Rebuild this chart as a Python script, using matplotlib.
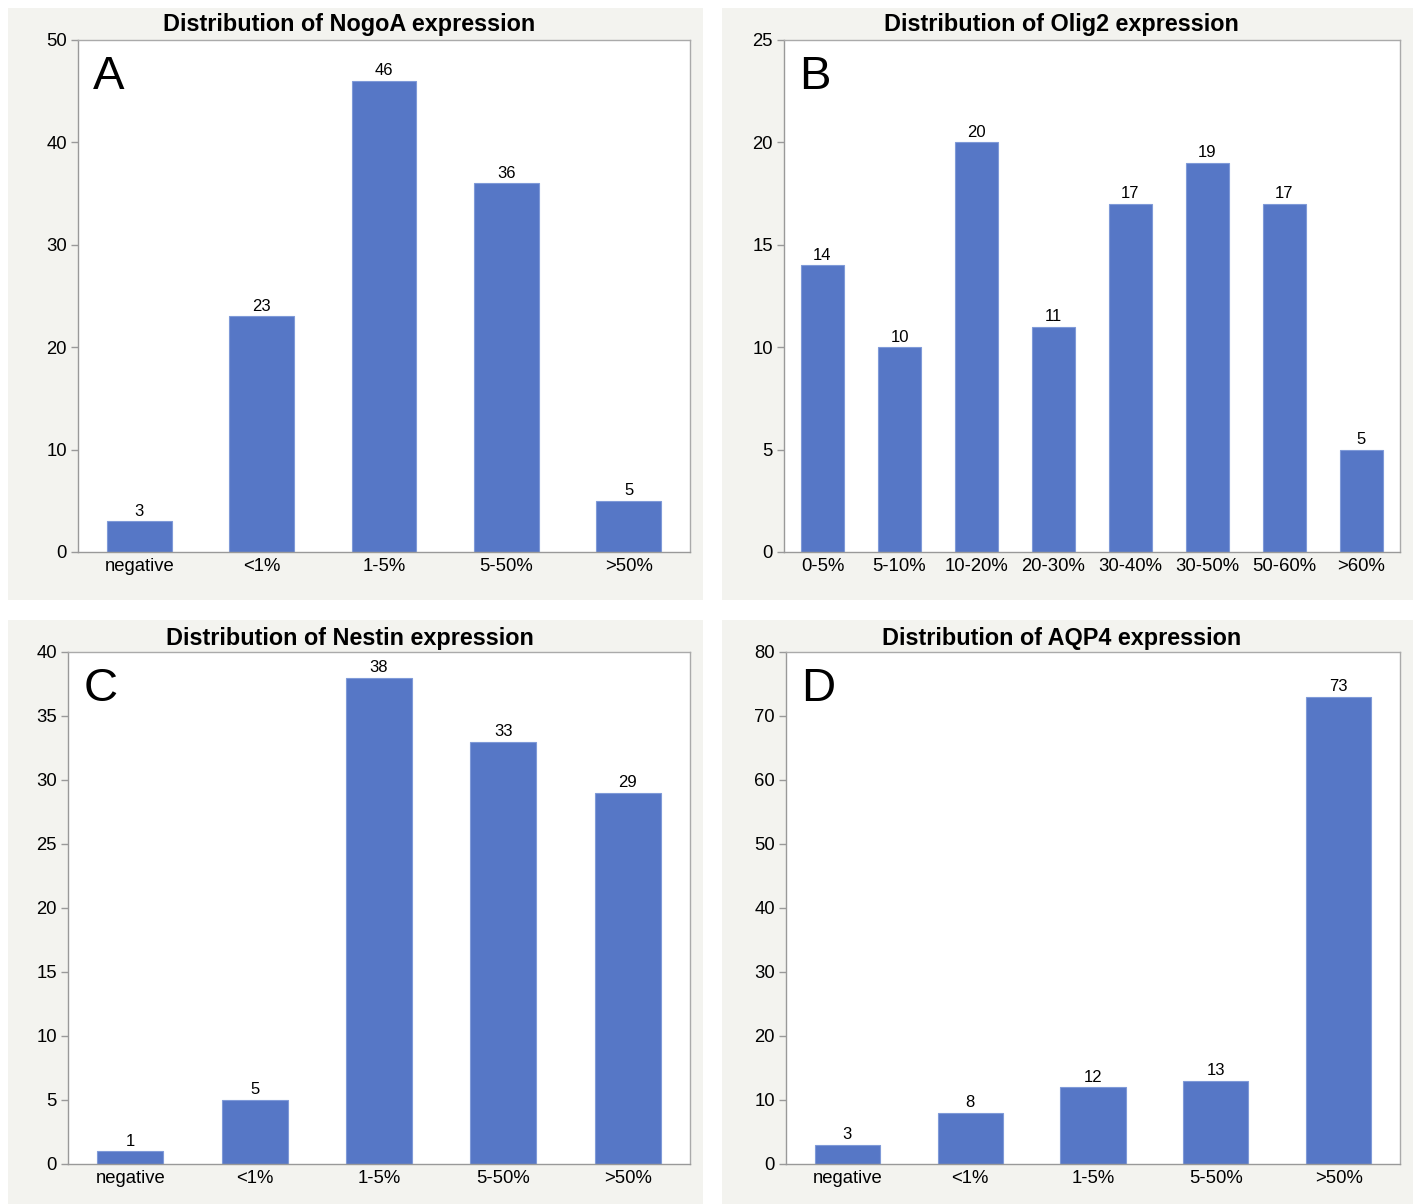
import matplotlib
matplotlib.use("Agg")
import matplotlib.pyplot as plt
from matplotlib.patches import Rectangle

plt.rcParams['font.family'] = ['Liberation Sans', 'DejaVu Sans']

nogoa_cats = ["negative", "<1%", "1-5%", "5-50%", ">50%"]
nogoa_vals = [3, 23, 46, 36, 5]

olig2_cats = ["0-5%", "5-10%", "10-20%", "20-30%", "30-40%", "30-50%", "50-60%", ">60%"]
olig2_vals = [14, 10, 20, 11, 17, 19, 17, 5]

nestin_cats = ["negative", "<1%", "1-5%", "5-50%", ">50%"]
nestin_vals = [1, 5, 38, 33, 29]

aqp4_cats = ["negative", "<1%", "1-5%", "5-50%", ">50%"]
aqp4_vals = [3, 8, 12, 13, 73]

W, H = 1416, 1204
fig = plt.figure(figsize=(W / 100, H / 100), dpi=100)
fig.patch.set_facecolor("white")

BG = "#f3f3ef"
BAR = "#5677c6"

# panel background boxes in pixels (x0, y0top, x1, y1bottom)
panels = [
    (8, 8, 703, 600),
    (722, 8, 1413, 600),
    (8, 620, 703, 1204),
    (722, 620, 1413, 1204),
]
# axes boxes in pixels (left, top, right, bottom)
axboxes = [
    (78, 40, 690, 552),
    (784, 40, 1400, 552),
    (68, 652, 690, 1164),
    (786, 652, 1400, 1164),
]
title_y = [25, 25, 638, 638]

specs = [
    ("Distribution of NogoA expression", "A", nogoa_cats, nogoa_vals, 50, 10, 0.53),
    ("Distribution of Olig2 expression", "B", olig2_cats, olig2_vals, 25, 5, 0.57),
    ("Distribution of Nestin expression", "C", nestin_cats, nestin_vals, 40, 5, 0.53),
    ("Distribution of AQP4 expression", "D", aqp4_cats, aqp4_vals, 80, 10, 0.53),
]

for (px0, py0, px1, py1) in panels:
    fig.add_artist(Rectangle((px0 / W, 1 - py1 / H), (px1 - px0) / W, (py1 - py0) / H,
                             transform=fig.transFigure, facecolor=BG, edgecolor="none", zorder=0))

for (l, t, r, b), (px0, py0, px1, py1), ty, (title, letter, cats, vals, ymax, step, bw) in zip(
        axboxes, panels, title_y, specs):
    ax = fig.add_axes([l / W, 1 - b / H, (r - l) / W, (b - t) / H])
    ax.set_facecolor("white")
    x = list(range(len(cats)))
    ax.bar(x, vals, width=bw, color=BAR, edgecolor="#7f9ad8", linewidth=0.8, zorder=2)
    for xi, v in zip(x, vals):
        ax.text(xi, v + ymax * 0.005, str(v), ha="center", va="bottom", fontsize=12, color="black")
    ax.set_xlim(-0.5, len(cats) - 0.5)
    ax.set_ylim(0, ymax)
    ax.set_yticks(list(range(0, ymax + 1, step)))
    ax.set_xticks(x)
    ax.set_xticklabels(cats, fontsize=13.3)
    ax.tick_params(axis="x", length=0, pad=4)
    ax.tick_params(axis="y", length=5, color="#999999", labelsize=13.3, pad=3, width=1)
    for s in ax.spines.values():
        s.set_color("#aaaaaa")
        s.set_linewidth(1.0)
    ax.spines["left"].set_color("#999999")
    ax.spines["bottom"].set_color("#999999")
    fig.text(((px0 + px1) / 2 - 6) / W, 1 - ty / H, title, fontsize=16.8, fontweight="bold",
             ha="center", va="center")
    ax.text(0.025, 0.97, letter, transform=ax.transAxes, fontsize=34, ha="left", va="top")

fig.savefig("out.png", dpi=100)
